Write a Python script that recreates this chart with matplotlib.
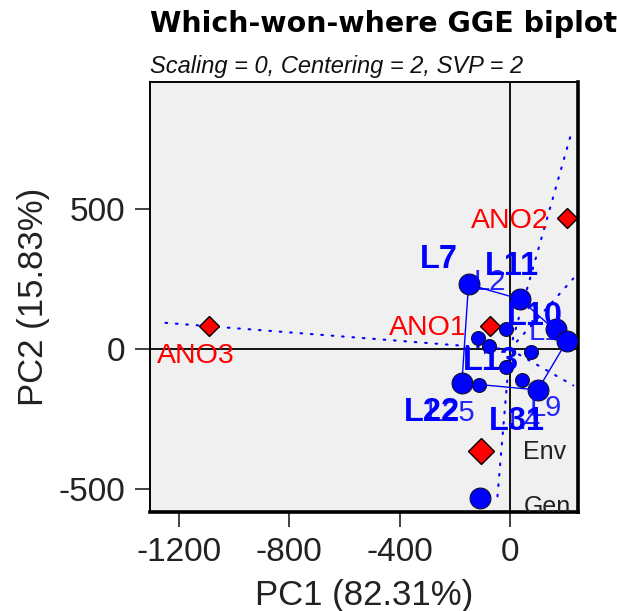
import matplotlib
matplotlib.use("Agg")
import matplotlib.pyplot as plt

plt.rcParams['font.family'] = ['Liberation Sans', 'DejaVu Sans']
plt.rcParams['axes.unicode_minus'] = False

# genotype scores (PC1, PC2); vertex = on the polygon
gen_pc1 = [-150, 38, -13, -114, -76, 167, 207, 76, -15, -174, -112, 43, 101]
gen_pc2 = [232, 179, 71, 39, 12, 72, 30, -10, -62, -120, -127, -110, -145]
gen_vertex = [1, 1, 0, 0, 0, 1, 1, 0, 0, 1, 0, 0, 1]
hull_order = [0, 1, 6, 12, 9, 0]

# genotype labels (repelled positions)
lab_text = ["L7", "L11", "L10", "L13", "L22", "L31", "L2", "L1", "L25", "L4", "L9"]
lab_pc1 = [-257, 7, 91, -69, -283, 25, -73, 127, -214, 54, 131]
lab_pc2 = [322, 297, 119, -45, -227, -256, 240, 62, -227, -256, -210]
lab_bold = [1, 1, 1, 1, 1, 1, 0, 0, 0, 0, 0]

# environments
env_names = ["ANO1", "ANO2", "ANO3"]
env_pc1 = [-73, 207, -1091]
env_pc2 = [83, 469, 83]
env_lab_pc1 = [-297, 0, -1138]
env_lab_pc2 = [76, 458, -24]

# sector rays (end points, start at origin)
ray_pc1 = [-1280, 225, 230, 230, -47]
ray_pc2 = [97, 780, 253, -129, -548]

xticks = [-1200, -800, -400, 0]
yticks = [-500, 0, 500]

fig = plt.figure(figsize=(6.17, 6.11), dpi=100)
ax = fig.add_axes([150/617, 1 - 512/611, 428/617, 430/611])
ax.set_facecolor('#F0F0F0')
ax.set_xlim(-1305, 247)
ax.set_ylim(-581, 955)

for x1, y1 in zip(ray_pc1, ray_pc2):
    ax.plot([0, x1], [0, y1], color='blue', lw=1.5, ls=(0, (0.8, 4.2)),
            dash_capstyle='round', zorder=2)

ax.plot([gen_pc1[i] for i in hull_order], [gen_pc2[i] for i in hull_order],
        color='blue', lw=1.0, zorder=2)

ax.axhline(0, color='black', lw=1.3, zorder=1)
ax.axvline(0, color='black', lw=1.3, zorder=1)

for x, y, v in zip(gen_pc1, gen_pc2, gen_vertex):
    ax.plot(x, y, 'o', ms=15 if v else 10, color='blue', mec='#101030',
            mew=0.8, zorder=4)

ax.plot(env_pc1, env_pc2, 'D', ms=10, color='red', mec='black', mew=1.0,
        zorder=4, linestyle='none')

for t, x, y in zip(env_names, env_lab_pc1, env_lab_pc2):
    ax.text(x, y, t, color='red', fontsize=20.5, ha='center', va='center',
            zorder=5)

for t, x, y, b in zip(lab_text, lab_pc1, lab_pc2, lab_bold):
    ax.text(x, y, t, color='blue', fontsize=23.5 if b else 21,
            fontweight='bold' if b else 'normal', ha='center', va='center',
            zorder=5 if b else 6, alpha=1 if b else 0.85)

# legend keys (cut off by the panel)
ax.plot(0.773, 0.142, 'D', ms=13.7, color='red', mec='black', mew=1.0,
        transform=ax.transAxes, clip_on=True, zorder=5)
ax.plot(0.771, 0.033, 'o', ms=15, color='blue', mec='#101030', mew=0.8,
        transform=ax.transAxes, clip_on=True, zorder=5)
ax.text(0.871, 0.140, "Env", fontsize=18, color='#222222', va='center',
        transform=ax.transAxes, clip_on=True, zorder=5)
ax.text(0.873, 0.012, "Gen", fontsize=18, color='#222222', va='center',
        transform=ax.transAxes, clip_on=True, zorder=5)

ax.set_xticks(xticks)
ax.set_yticks(yticks)
ax.tick_params(axis='both', length=11, width=1.3, color='#333333',
               labelsize=24, labelcolor='#222222')
ax.tick_params(axis='x', pad=7)
ax.tick_params(axis='y', pad=7)
for side in ['left', 'top']:
    ax.spines[side].set_linewidth(1.4)
for side in ['right', 'bottom']:
    ax.spines[side].set_linewidth(2.6)

ax.set_xlabel("PC1 (82.31%)", fontsize=25, color='#222222')
ax.xaxis.set_label_coords(0.5, -0.155)
ax.set_ylabel("PC2 (15.83%)", fontsize=25, color='#222222')
ax.yaxis.set_label_coords(-0.234, 0.5)

fig.text(150/617, 1 - 32/611, "Which-won-where GGE biplot", fontsize=20.5,
         fontweight='bold', family='DejaVu Sans', va='baseline', ha='left')
fig.text(150/617, 1 - 73/611, "Scaling = 0, Centering = 2, SVP = 2",
         fontsize=17, style='italic', va='baseline', ha='left',
         color='#111111')

fig.savefig("out.png", dpi=100)
